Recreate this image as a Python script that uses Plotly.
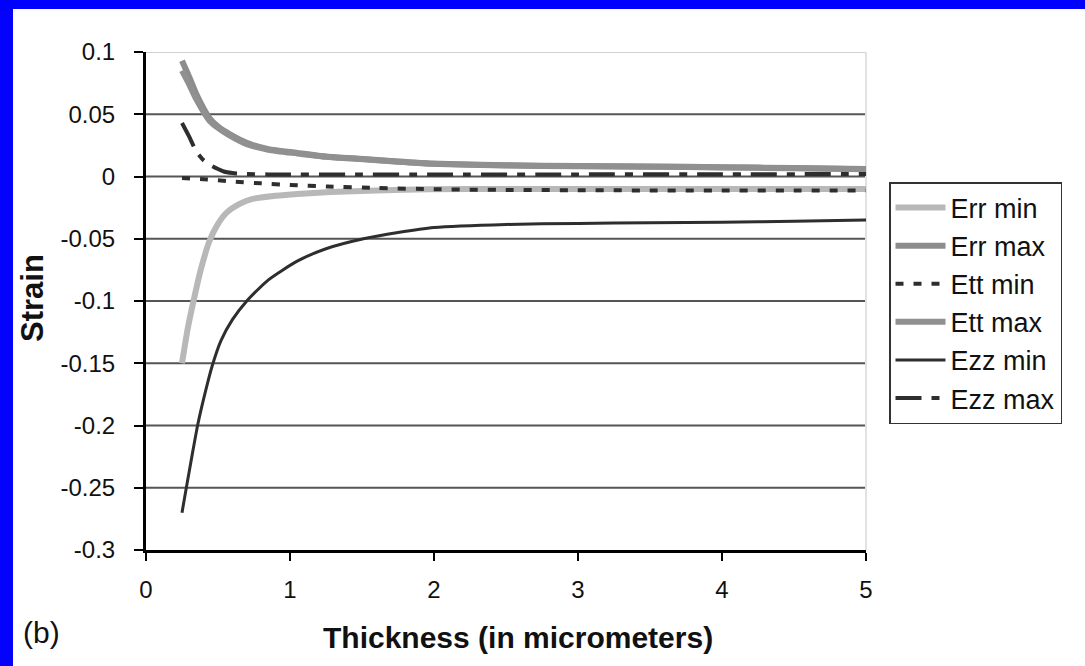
import plotly.graph_objects as go

# Thickness (micrometers) sample points for each strain curve
err_min_x = [0.25, 0.29, 0.33, 0.38, 0.44, 0.50, 0.56, 0.65, 0.74, 0.90, 1.05, 1.28, 1.60, 1.97, 2.5, 3.0, 3.5, 4.0, 4.5, 5.0]
err_min_y = [-0.150, -0.122, -0.100, -0.075, -0.052, -0.038, -0.029, -0.022, -0.018, -0.0155, -0.0140, -0.0125, -0.0112, -0.0102, -0.0100, -0.0100, -0.0100, -0.0100, -0.0100, -0.0100]

err_max_x = [0.25, 0.30, 0.35, 0.44, 0.50, 0.58, 0.70, 0.85, 1.05, 1.25, 1.51, 1.75, 1.97, 2.5, 3.0, 3.5, 4.0, 4.5, 5.0]
err_max_y = [0.093, 0.080, 0.066, 0.047, 0.040, 0.034, 0.027, 0.022, 0.019, 0.016, 0.0140, 0.0120, 0.0105, 0.0090, 0.0085, 0.0080, 0.0075, 0.0068, 0.0060]

ett_min_x = [0.25, 0.40, 0.60, 0.80, 1.00, 1.26, 1.60, 2.0, 2.5, 3.0, 3.5, 4.0, 4.5, 5.0]
ett_min_y = [-0.0012, -0.0022, -0.0040, -0.0055, -0.0068, -0.0080, -0.0092, -0.0102, -0.0108, -0.0110, -0.0112, -0.0112, -0.0113, -0.0113]

ett_max_x = [0.25, 0.30, 0.35, 0.44, 0.50, 0.58, 0.70, 0.85, 1.05, 1.25, 1.51, 1.75, 1.97, 2.5, 3.0, 3.5, 4.0, 4.5, 5.0]
ett_max_y = [0.085, 0.074, 0.062, 0.045, 0.039, 0.033, 0.026, 0.0215, 0.0185, 0.0158, 0.0138, 0.0118, 0.0103, 0.0088, 0.0083, 0.0078, 0.0073, 0.0066, 0.0058]

ezz_min_x = [0.25, 0.28, 0.32, 0.36, 0.41, 0.46, 0.52, 0.60, 0.70, 0.85, 1.05, 1.25, 1.51, 1.75, 2.0, 2.5, 3.0, 3.5, 4.0, 4.5, 5.0]
ezz_min_y = [-0.270, -0.250, -0.224, -0.199, -0.174, -0.152, -0.132, -0.115, -0.100, -0.083, -0.068, -0.058, -0.050, -0.045, -0.041, -0.0385, -0.0377, -0.0372, -0.0368, -0.0360, -0.0350]

ezz_max_x = [0.25, 0.30, 0.35, 0.40, 0.44, 0.50, 0.54, 0.60, 0.70, 0.85, 1.0, 1.5, 2.0, 3.0, 4.0, 5.0]
ezz_max_y = [0.043, 0.032, 0.020, 0.013, 0.0096, 0.0060, 0.0040, 0.0028, 0.0020, 0.0017, 0.0016, 0.0016, 0.0016, 0.0017, 0.0018, 0.0020]

# Axis ticks
x_ticks = [0, 1, 2, 3, 4, 5]
x_tick_text = ["0", "1", "2", "3", "4", "5"]
y_ticks = [0.1, 0.05, 0, -0.05, -0.1, -0.15, -0.2, -0.25, -0.3]
y_tick_text = ["0.1", "0.05", "0", "-0.05", "-0.1", "-0.15", "-0.2", "-0.25", "-0.3"]

FONT = "Liberation Sans, Arial, sans-serif"
DARK = "#2e2e2e"
W, H = 1085, 666

# Plot-area pixel frame used to place paper-referenced items
L, R, T, B = 146, 866, 52, 550


def px_x(px):
    return (px - L) / (R - L)


def px_y(py):
    return (B - py) / (B - T)


fig = go.Figure()

series = [
    ("Err min", err_min_x, err_min_y, dict(color="#b8b8b8", width=6, dash="solid")),
    ("Err max", err_max_x, err_max_y, dict(color="#8c8c8c", width=6, dash="solid")),
    ("Ett min", ett_min_x, ett_min_y, dict(color=DARK, width=4, dash="8px,10px")),
    ("Ett max", ett_max_x, ett_max_y, dict(color="#909090", width=6, dash="solid")),
    ("Ezz min", ezz_min_x, ezz_min_y, dict(color=DARK, width=3, dash="solid")),
    ("Ezz max", ezz_max_x, ezz_max_y, dict(color=DARK, width=4, dash="26px,10px,8px,10px")),
]

for i, (name, xs, ys, line) in enumerate(series):
    fig.add_trace(go.Scatter(
        x=xs, y=ys, mode="lines", name=name, line=dict(shape="spline", smoothing=0.6, **line),
        legendgroup=f"g{i}",
    ))

# Horizontal gridlines
for v in y_ticks[1:-1]:
    fig.add_shape(type="line", xref="paper", x0=0, x1=1, yref="y", y0=v, y1=v,
                  line=dict(color="#555555", width=2), layer="below")
fig.add_shape(type="line", xref="paper", x0=0, x1=1, yref="y", y0=0.1, y1=0.1,
              line=dict(color="#d0d0d0", width=2), layer="below")
# Light plot-area edge on the right
fig.add_shape(type="line", xref="paper", x0=1, x1=1, yref="paper", y0=0, y1=1,
              line=dict(color="#e2e2e2", width=2), layer="below")

# Blue frame strips along the top and left, kept inside the page
fig.add_shape(type="rect", xref="paper", yref="paper", x0=px_x(0), x1=px_x(W), y0=px_y(9), y1=px_y(0),
              fillcolor="#0000ff", line=dict(width=0), layer="above")
fig.add_shape(type="rect", xref="paper", yref="paper", x0=px_x(0), x1=px_x(13), y0=px_y(H), y1=px_y(9),
              fillcolor="#0303fc", line=dict(width=0), layer="above")

fig.add_annotation(text="(b)", xref="paper", yref="paper", x=px_x(41), y=px_y(632),
                   showarrow=False, font=dict(family=FONT, size=30, color="#111111"),
                   xanchor="center", yanchor="middle")
fig.add_annotation(text="<b>Thickness (in micrometers)</b>", xref="paper", yref="paper",
                   x=px_x(518), y=px_y(637), showarrow=False,
                   font=dict(family=FONT, size=30, color="#111111"),
                   xanchor="center", yanchor="middle")
fig.add_annotation(text="<b>Strain</b>", xref="paper", yref="paper",
                   x=px_x(32), y=px_y(298), showarrow=False, textangle=-90,
                   font=dict(family=FONT, size=31, color="#111111"),
                   xanchor="center", yanchor="middle")

fig.update_layout(
    width=W, height=H,
    margin=dict(l=L, r=W - R, t=T, b=H - B),
    paper_bgcolor="white", plot_bgcolor="white",
    font=dict(family=FONT, size=24, color="#111111"),
    showlegend=True,
    legend=dict(
        x=px_x(889), y=px_y(182), xanchor="left", yanchor="top",
        bgcolor="white", bordercolor="#333333", borderwidth=1.5,
        font=dict(family=FONT, size=27, color="#111111"),
        tracegroupgap=0, itemwidth=50, traceorder="grouped",
    ),
    xaxis=dict(
        range=[0, 5], tickvals=x_ticks, ticktext=x_tick_text,
        showgrid=False, zeroline=False,
        showline=True, linecolor="#000000", linewidth=3,
        ticks="outside", ticklen=8, tickwidth=2, tickcolor="#000000",
        tickfont=dict(size=24), ticklabelstandoff=8,
    ),
    yaxis=dict(
        range=[-0.3, 0.1], tickvals=y_ticks, ticktext=y_tick_text,
        showgrid=False, zeroline=False,
        showline=True, linecolor="#000000", linewidth=3,
        ticks="outside", ticklen=9, tickwidth=2, tickcolor="#000000",
        tickfont=dict(size=24), ticklabelstandoff=14,
    ),
)

fig.write_html("out.html")
